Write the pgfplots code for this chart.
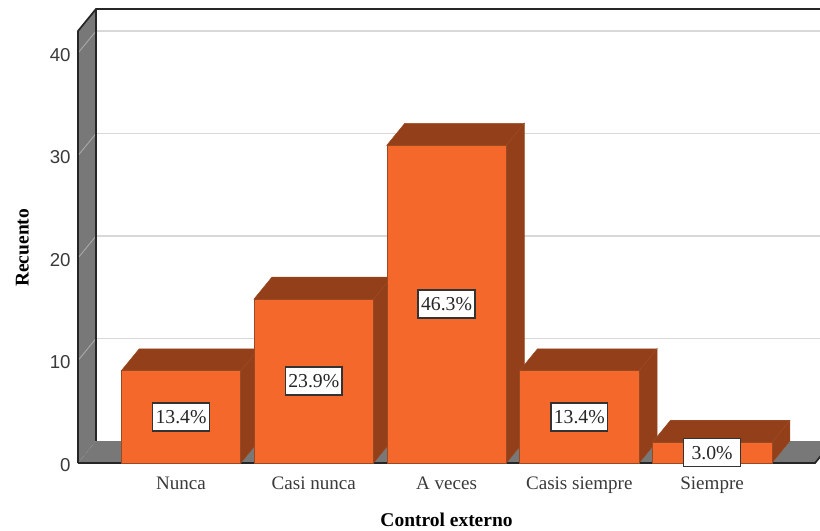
\documentclass[border=0pt]{standalone}
\usepackage{fontspec}
\usepackage{pgfplots}
\pgfplotsset{compat=1.18}
\setmainfont{Liberation Serif}
\newfontfamily\ticksans{Liberation Sans}
\definecolor{wall}{HTML}{787878}
\definecolor{front}{HTML}{F4692B}
\definecolor{shade}{HTML}{933F19}
\definecolor{edge}{HTML}{9A4A22}
\definecolor{gridback}{HTML}{D8D8D8}
\definecolor{gridwall}{HTML}{A8A8A8}
\definecolor{ink}{HTML}{3A3A3A}
\pgfplotsset{
  side/.style={fill=shade,draw=edge,line width=0.4pt},
  face/.style={ybar,bar width=89.6pt,fill=front,draw=edge,line width=0.4pt},
  frame/.style={black!85,line width=1.3pt},
}
\begin{document}
\begin{tikzpicture}
\path[use as bounding box,clip] (0,0) rectangle (615pt,398.25pt);
\begin{axis}[
  at={(58.5pt,51pt)},anchor=south west,
  scale only axis,width=566.25pt,height=340.5pt,
  xmin=-0.776,xmax=4.911,ymin=0,ymax=44.3,
  clip=false,
  axis line style={draw=none},
  tick style={draw=none},
  xtick={0,1,2,3,4},
  xticklabels={Nunca,Casi nunca,A veces,Casis siempre,Siempre},
  ytick={0,10,20,30,40},
  /pgf/number format/assume math mode=true,
  x tick label style={font=\fontsize{14.3}{16}\selectfont,text=ink,yshift=-7pt},
  y tick label style={font=\ticksans\fontsize{14}{16}\selectfont,text=ink,xshift=-2pt,yshift=-1.2pt},
  xlabel={\textbf{Control externo}},
  ylabel={\textbf{Recuento}},
  every axis x label/.style={at={(axis cs:2,-5.5)},anchor=center,font=\fontsize{14.6}{16}\selectfont},
  every axis y label/.style={at={(axis cs:-1.195,21.0)},rotate=90,anchor=center,font=\fontsize{14.6}{16}\selectfont},
]
% left wall and floor
\addplot[fill=wall,draw=none] coordinates {(-0.776,0)(-0.6404,2.146)(-0.6404,44.3)(-0.776,42.15)} --cycle;
\addplot[fill=wall,draw=none] coordinates {(-0.776,0)(-0.6404,2.146)(4.911,2.146)(4.776,0)} --cycle;
% gridlines along the back wall, continuing across the left wall
\addplot[gridback,line width=1.4pt] coordinates {(-0.6404,12.146)(4.911,12.146)};
\addplot[gridback,line width=1.4pt] coordinates {(-0.6404,22.146)(4.911,22.146)};
\addplot[gridback,line width=1.4pt] coordinates {(-0.6404,32.146)(4.911,32.146)};
\addplot[gridback,line width=1.4pt] coordinates {(-0.6404,42.146)(4.911,42.146)};
\addplot[gridwall,line width=0.7pt] coordinates {(-0.776,10)(-0.6404,12.146)};
\addplot[gridwall,line width=0.7pt] coordinates {(-0.776,20)(-0.6404,22.146)};
\addplot[gridwall,line width=0.7pt] coordinates {(-0.776,30)(-0.6404,32.146)};
\addplot[gridwall,line width=0.7pt] coordinates {(-0.776,40)(-0.6404,42.146)};
% frame of the box
\addplot[frame] coordinates {(-0.776,0)(-0.776,42.15)(-0.6404,44.3)(4.911,44.3)};
\addplot[frame,line width=0.8pt] coordinates {(-0.6404,44.3)(-0.6404,2.146)};
\addplot[frame] coordinates {(-0.776,0)(4.776,0)(4.911,2.146)};
% Nunca
\addplot[side] coordinates {(0.45,0)(0.5856,2.146)(0.5856,11.146)(0.45,9)} --cycle;
\addplot[side] coordinates {(-0.45,9)(-0.3144,11.146)(0.5856,11.146)(0.45,9)} --cycle;
\addplot[face] coordinates {(0,9)};
% Casi nunca
\addplot[side] coordinates {(1.45,0)(1.5856,2.146)(1.5856,18.146)(1.45,16)} --cycle;
\addplot[side] coordinates {(0.55,16)(0.6856,18.146)(1.5856,18.146)(1.45,16)} --cycle;
\addplot[face] coordinates {(1,16)};
% A veces
\addplot[side] coordinates {(2.45,0)(2.5856,2.146)(2.5856,33.146)(2.45,31)} --cycle;
\addplot[side] coordinates {(1.55,31)(1.6856,33.146)(2.5856,33.146)(2.45,31)} --cycle;
\addplot[face] coordinates {(2,31)};
% Casis siempre
\addplot[side] coordinates {(3.45,0)(3.5856,2.146)(3.5856,11.146)(3.45,9)} --cycle;
\addplot[side] coordinates {(2.55,9)(2.6856,11.146)(3.5856,11.146)(3.45,9)} --cycle;
\addplot[face] coordinates {(3,9)};
% Siempre
\addplot[side] coordinates {(4.45,0)(4.5856,2.146)(4.5856,4.146)(4.45,2)} --cycle;
\addplot[side] coordinates {(3.55,2)(3.6856,4.146)(4.5856,4.146)(4.45,2)} --cycle;
\addplot[face] coordinates {(4,2)};
% percentage labels at half the height of each bar
\addplot[
  draw=none,mark=none,
  point meta=explicit,
  nodes near coords={\pgfmathprintnumber[fixed,fixed zerofill,precision=1]{\pgfplotspointmeta}\%},
  every node near coord/.style={anchor=center,fill=white,draw=black!80,line width=1.1pt,
    inner sep=0pt,minimum width=42.5pt,minimum height=21pt,
    font=\fontsize{14.8}{16}\selectfont,text=black!85},
] table[x=x,y=mid,meta=pct] {
x mid pct
0 4.5 13.4
1 8 23.9
2 15.5 46.3
3 4.5 13.4
4 1 3.0
};
\end{axis}
\end{tikzpicture}
\end{document}
